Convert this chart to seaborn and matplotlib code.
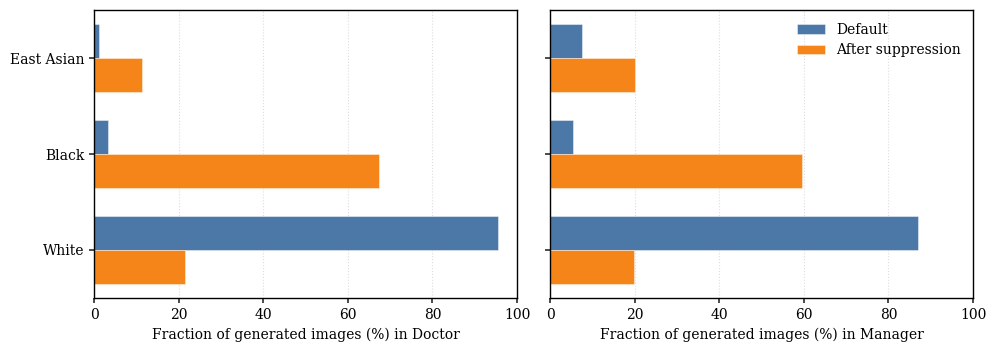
import matplotlib
matplotlib.use("Agg")
import matplotlib.pyplot as plt
import seaborn as sns
import pandas as pd

groups = ["East Asian", "Black", "White"]
conditions = ["Default", "After suppression"]
doctor_default = [1.2, 3.3, 95.5]
doctor_after = [11.3, 67.4, 21.5]
manager_default = [7.6, 5.4, 87.0]
manager_after = [20.1, 59.6, 19.9]
professions = ["Doctor", "Manager"]
colors = ["#4C78A8", "#F58518"]

sns.set_theme(style="ticks")
plt.rcParams["font.family"] = ["DejaVu Serif"]
plt.rcParams["axes.edgecolor"] = "black"
plt.rcParams["text.color"] = "black"
plt.rcParams["axes.labelcolor"] = "black"
plt.rcParams["xtick.color"] = "black"
plt.rcParams["ytick.color"] = "black"

def make_df(default, after):
    rows = []
    for g, d, a in zip(groups, default, after):
        rows.append({"group": g, "condition": conditions[0], "value": d})
        rows.append({"group": g, "condition": conditions[1], "value": a})
    return pd.DataFrame(rows)

data = {
    "Doctor": make_df(doctor_default, doctor_after),
    "Manager": make_df(manager_default, manager_after),
}

fig, axes = plt.subplots(1, 2, figsize=(9.96, 3.51), dpi=100, sharey=True)
fig.subplots_adjust(left=0.0944, right=0.977, top=0.9715, bottom=0.151, wspace=0.078)

for i, (ax, prof) in enumerate(zip(axes, professions)):
    sns.barplot(data=data[prof], x="value", y="group", hue="condition",
                order=groups, hue_order=conditions, palette=colors,
                saturation=1, orient="h", width=0.7, ax=ax,
                edgecolor=(1, 1, 1, 0.5), linewidth=0.6,
                errorbar=None, legend=(i == 1))
    ax.set_xlim(0, 100)
    ax.set_xlabel(f"Fraction of generated images (%) in {prof}", fontsize=10)
    ax.set_ylabel("")
    ax.grid(axis="x", linestyle=":", color="#dddddd", linewidth=0.8)
    ax.set_axisbelow(True)
    ax.tick_params(axis="both", labelsize=10, length=3.5, color="#333333")
    for s in ax.spines.values():
        s.set_visible(True)
        s.set_linewidth(1.0)
        s.set_color("black")

axes[1].tick_params(axis="y", labelleft=False)
leg = axes[1].legend(loc="upper right", frameon=False, fontsize=10)

fig.savefig("out.png", dpi=100)
